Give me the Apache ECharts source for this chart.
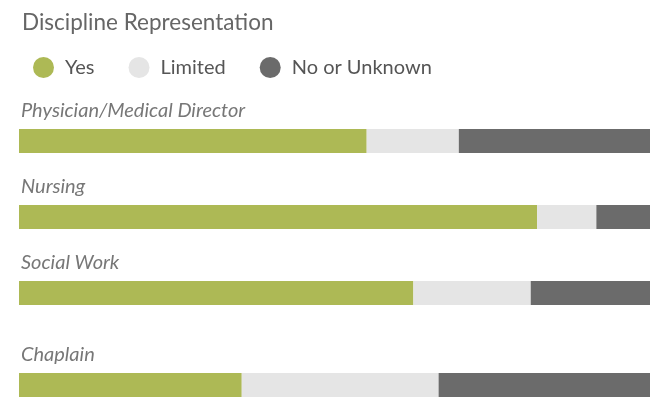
<!DOCTYPE html>
<html>
<head>
<meta charset="utf-8">
<script src="https://cdn.jsdelivr.net/npm/echarts@6/dist/echarts.min.js"></script>
<style>
  html, body { margin: 0; padding: 0; background: #fff; }
  #main { width: 667px; height: 405px; }
</style>
</head>
<body>
<div id="main"></div>
<script>
  // data (percent of respondents)
  var categories = ['Physician/Medical Director', 'Nursing', 'Social Work', 'Chaplain'];
  var seriesNames = ['Yes', 'Limited', 'No or Unknown'];
  var yesData = [55.1, 82.1, 62.5, 35.3];
  var limitedData = [14.6, 9.4, 18.6, 31.2];
  var noData = [30.3, 8.5, 18.9, 33.5];
  var colors = ['#adb955', '#e5e5e5', '#6b6b6b'];

  var barTops = [129, 205, 281, 373];
  var values = [yesData, limitedData, noData];

  var grids = [], xAxes = [], yAxes = [], series = [];
  categories.forEach(function (cat, i) {
    grids.push({ left: 19, right: 17, top: barTops[i], height: 24 });
    xAxes.push({ type: 'value', gridIndex: i, min: 0, max: 100, show: false });
    yAxes.push({
      type: 'category', gridIndex: i, data: [cat],
      axisLine: { show: false }, axisTick: { show: false }, axisLabel: { show: false },
      name: cat, nameLocation: 'end', nameGap: 8,
      nameTextStyle: {
        align: 'left', padding: [0, 0, 0, 2], fontFamily: 'Lato', fontStyle: 'italic',
        fontSize: 20, color: '#777'
      }
    });
    seriesNames.forEach(function (nm, k) {
      series.push({
        name: nm, type: 'bar', stack: 'g' + i,
        xAxisIndex: i, yAxisIndex: i,
        barWidth: 24, itemStyle: { color: colors[k] },
        data: [values[k][i]], silent: true
      });
    });
  });

  var myChart = echarts.init(document.getElementById('main'), null, { renderer: 'canvas' });
  myChart.setOption({
    animation: false,
    title: {
      text: 'Discipline Representation', left: 17, top: 6,
      textStyle: { fontFamily: 'Lato', fontWeight: 'normal', fontSize: 22.5, color: '#666' }
    },
    legend: {
      data: seriesNames, left: 28, top: 52, icon: 'circle',
      itemWidth: 21, itemHeight: 21, itemGap: 34,
      textStyle: { fontFamily: 'Lato', fontSize: 20, color: '#555', padding: [0, 0, 0, 6] }
    },
    color: colors,
    grid: grids,
    xAxis: xAxes,
    yAxis: yAxes,
    series: series
  });
</script>
</body>
</html>
